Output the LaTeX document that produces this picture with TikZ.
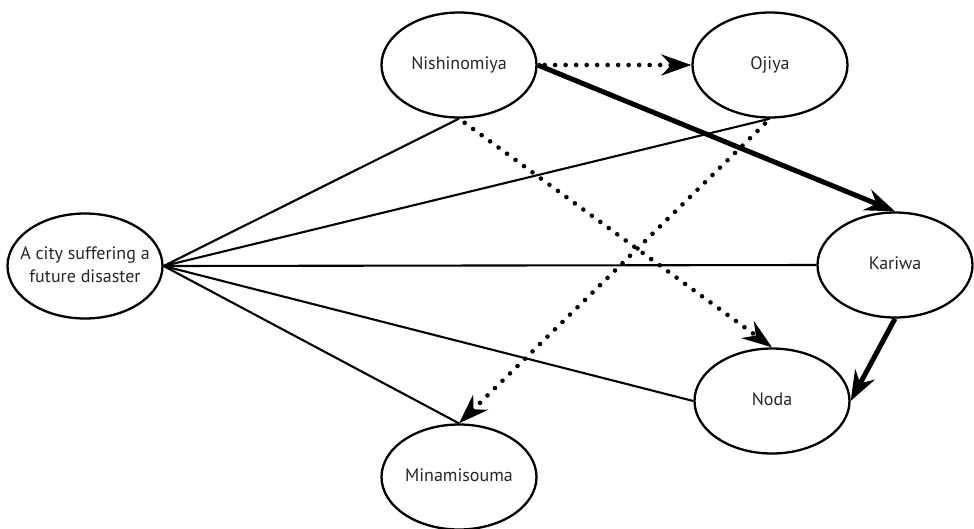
\documentclass[tikz,border=0pt]{standalone}
\usepackage{fontspec}
\setmainfont{PT Sans}
\usetikzlibrary{shapes.geometric,arrows.meta}
\newcommand{\cityname}[1]{\makebox[0pt][c]{\begin{tabular}{@{}c@{}}#1\end{tabular}}}
\begin{document}
\begin{tikzpicture}[x=1pt,y=-1pt,
  city/.style={draw, ellipse, line width=2.3pt, minimum width=155pt, minimum height=105pt, inner sep=0pt, font=\fontsize{18}{23}\selectfont, text=black!85},
  link/.style={line width=2.1pt},
  dotarrow/.style={line width=4.6pt, line cap=round, dash pattern=on 0pt off 10.5pt, -{Stealth[length=30pt, width=21pt, inset=10pt]}, shorten <=7pt},
  thickarrow/.style={line width=5pt, -{Stealth[length=30pt, width=22pt, inset=10pt]}}]
\useasboundingbox (0,0) rectangle (974,528);
\node[city] (nish) at (459,65) {\cityname{Nishinomiya}};
\node[city] (oji) at (770,65) {\cityname{Ojiya}};
\node[city] (kar) at (895,265) {\cityname{Kariwa}};
\node[city] (noda) at (772,401) {\cityname{Noda}};
\node[city] (mina) at (459,477) {\cityname{Minamisouma}};
\node[city] (fut) at (85,266) {\cityname{A city suffering a\\future disaster}};
\draw[link] (fut.east) -- (nish.south);
\draw[link] (fut.east) -- (oji.south);
\draw[link] (fut.east) -- (kar.west);
\draw[link] (fut.east) -- (noda.west);
\draw[link] (fut.east) -- (mina.north);
\draw[dotarrow] (nish.east) -- (oji.west);
\draw[dotarrow] (nish.south) -- (noda.north);
\draw[dotarrow] (oji.south) -- (mina.north);
\draw[thickarrow] (nish.east) -- (kar.north);
\draw[thickarrow] (kar.south) -- (noda.east);
\end{tikzpicture}
\end{document}
